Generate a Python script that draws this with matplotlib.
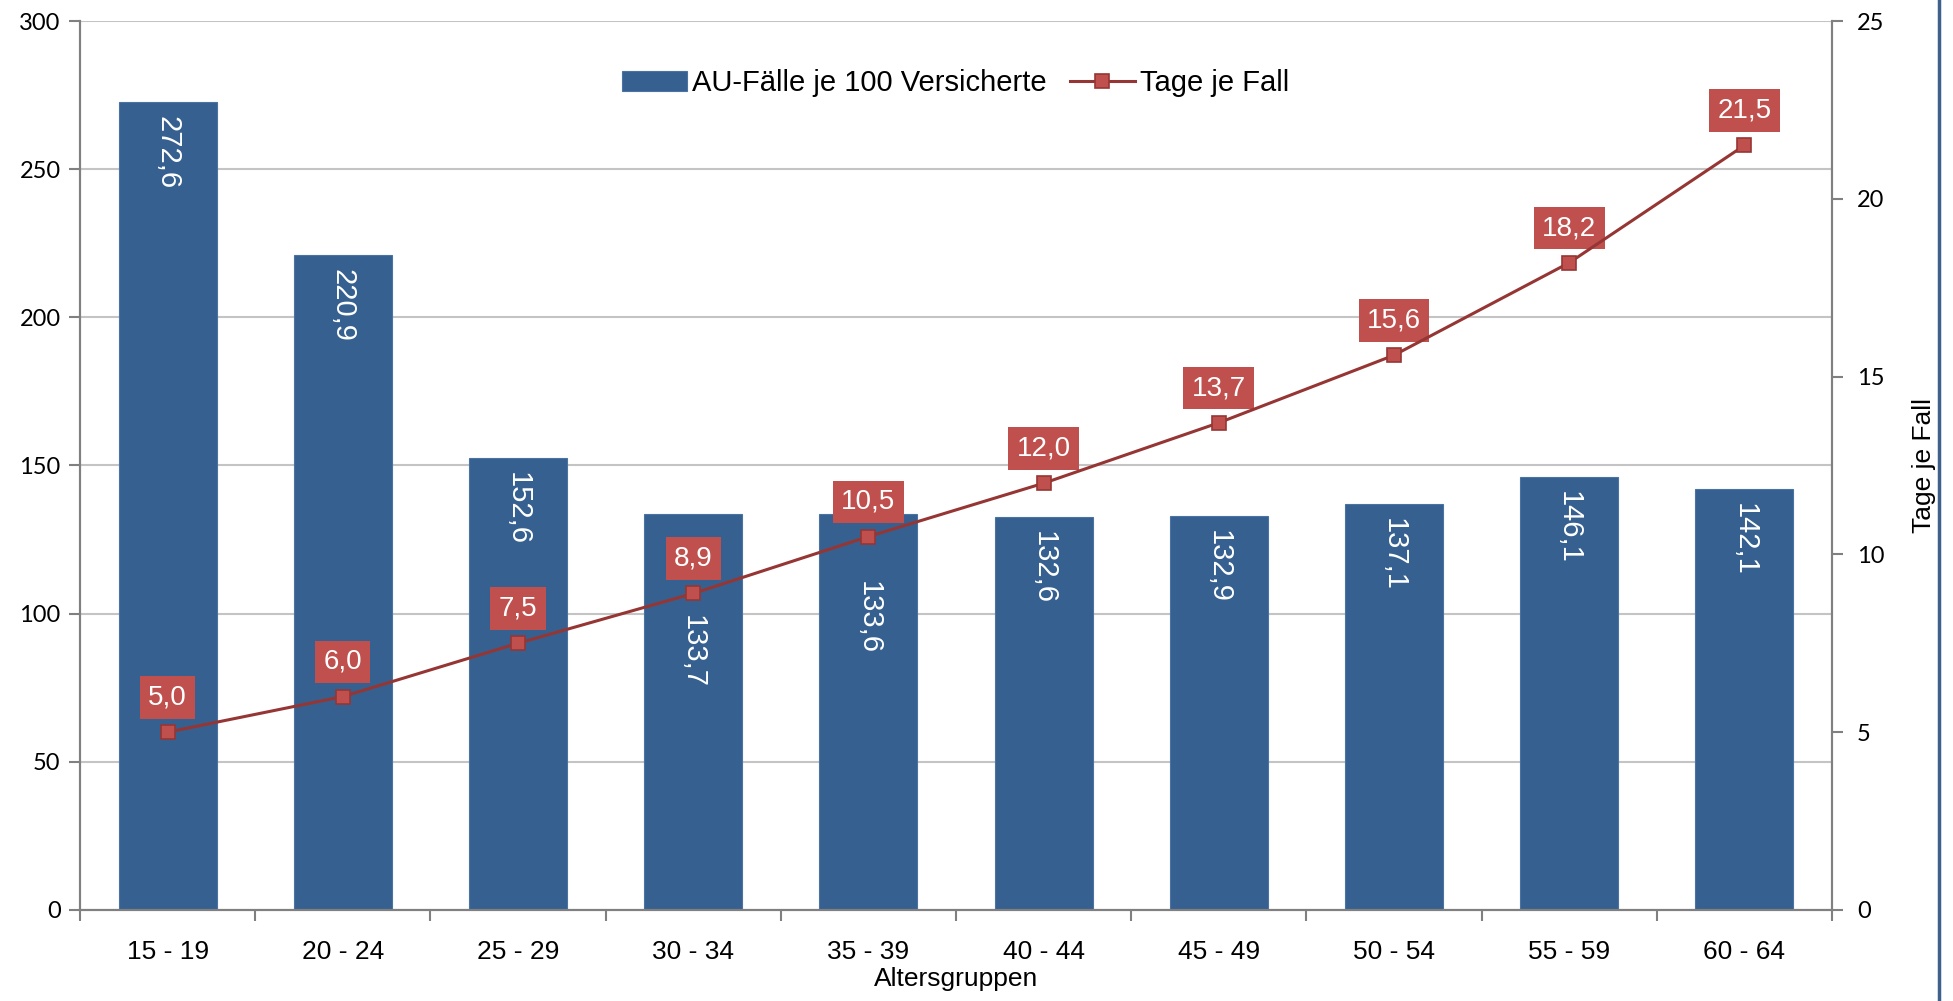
import matplotlib.pyplot as plt
from matplotlib.lines import Line2D

# Data
gruppen = ["15 - 19", "20 - 24", "25 - 29", "30 - 34", "35 - 39",
           "40 - 44", "45 - 49", "50 - 54", "55 - 59", "60 - 64"]
faelle = [272.6, 220.9, 152.6, 133.7, 133.6, 132.6, 132.9, 137.1, 146.1, 142.1]
tage = [5.0, 6.0, 7.5, 8.9, 10.5, 12.0, 13.7, 15.6, 18.2, 21.5]

bar_col = "#36608F"
line_col = "#963634"
mark_col = "#C0504D"
narrow = ["Liberation Sans Narrow", "Liberation Sans", "DejaVu Sans"]
arial = ["Liberation Sans", "DejaVu Sans"]
numfont = ["Lato", "DejaVu Sans"]
# bar labels that were moved down so they clear the line labels
label_shift = {3: -73, 4: -48}

def de(v):
    return f"{v:.1f}".replace(".", ",")

fig = plt.figure(figsize=(19.53, 10.01), dpi=100)
ax = fig.add_axes([0.041, 0.091, 0.897, 0.888])
ax2 = ax.twinx()

x = list(range(len(gruppen)))
bars = ax.bar(x, faelle, width=0.56, color=bar_col, edgecolor="#4A73A3",
              linewidth=0.8, zorder=2, label="AU-Fälle je 100 Versicherte")
for xi, v in zip(x, faelle):
    ax.annotate(de(v), (xi, v), xytext=(0, label_shift.get(xi, -10)),
                textcoords="offset points", rotation=-90, ha="center",
                va="top", color="white", fontsize=21, family=narrow, zorder=3)

ln, = ax2.plot(x, tage, color=line_col, lw=2.2, marker="s", markersize=10,
               markerfacecolor=mark_col, markeredgecolor=line_col,
               markeredgewidth=1.2, label="Tage je Fall", zorder=4)
for xi, v in zip(x, tage):
    ax2.annotate(de(v), (xi, v), xytext=(0, 25), textcoords="offset points",
                 ha="center", va="center", color="white", fontsize=20,
                 family=arial,
                 bbox=dict(boxstyle="square,pad=0.3", fc=mark_col, ec="none"))

ax.set_xlim(-0.5, len(gruppen) - 0.5)
ax.set_ylim(0, 300)
ax.set_yticks(range(0, 301, 50))
ax2.set_ylim(0, 25)
ax2.set_yticks(range(0, 26, 5))

ax.set_xticks(x)
ax.set_xticklabels(gruppen, fontsize=19, family=narrow)
ax.set_xticks([i - 0.5 for i in range(len(gruppen) + 1)], minor=True)
ax.tick_params(axis="x", which="major", length=0, pad=22)
ax.tick_params(axis="x", which="minor", length=8, color="#808080", width=1.5)
ax.tick_params(axis="y", length=8, color="#808080", width=1.5, pad=6)
ax2.tick_params(axis="y", length=8, color="#808080", width=1.5, pad=10)
for lab in ax.get_yticklabels() + ax2.get_yticklabels():
    lab.set_fontsize(17)
    lab.set_family(numfont)

ax.yaxis.grid(True, color="#C4C4C4", lw=1.5, zorder=0)
ax.set_axisbelow(True)
for a in (ax, ax2):
    a.spines["top"].set_visible(False)
    for s in ("left", "right", "bottom"):
        a.spines[s].set_color("#808080")
        a.spines[s].set_linewidth(1.5)

ax.set_xlabel("Altersgruppen", fontsize=19, family=narrow, labelpad=2)
ax2.set_ylabel("Tage je Fall", fontsize=19, family=narrow, labelpad=20)

ax.legend([bars, ln], ["AU-Fälle je 100 Versicherte", "Tage je Fall"],
          loc="upper center", bbox_to_anchor=(0.5, 0.975), ncol=2,
          frameon=False, prop={"family": narrow, "size": 21},
          handlelength=2.2, columnspacing=0.8, handletextpad=0.2)

fig.add_artist(Line2D([0.9928, 0.9928], [0, 1], color="#3F5F8F", lw=2.5))

fig.savefig("out.png", dpi=100)
